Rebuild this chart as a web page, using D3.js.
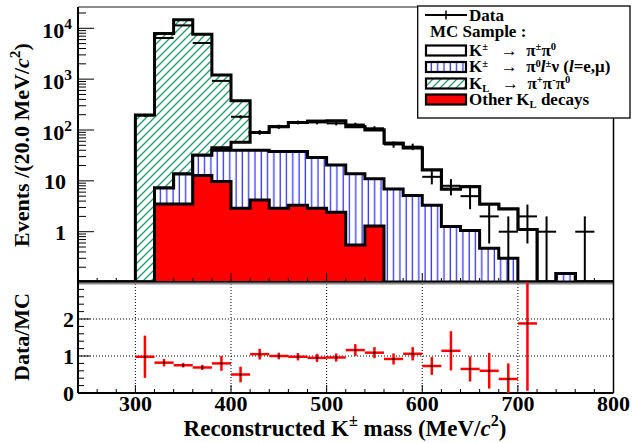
<!DOCTYPE html>
<html>
<head>
<meta charset="utf-8">
<script src="https://cdn.jsdelivr.net/npm/d3@7"></script>
<style>
  body { margin: 0; background: #fff; }
  text { font-family: "Liberation Serif", "Times New Roman", serif; font-weight: bold; fill: #000; }
</style>
</head>
<body>
<svg id="chart"></svg>
<script>
// bins of 20 MeV/c2, lower edges
const binLow = [240, 260, 280, 300, 320, 340, 360, 380, 400, 420, 440, 460, 480, 500,
                520, 540, 560, 580, 600, 620, 640, 660, 680, 700, 720, 740, 760, 780];
const binWidth = 20;

// MC samples (events per bin)
const otherKL = [0, 0, 0, 0, 3.5, 3.5, 12.7, 9.7, 2.9, 4.2, 2.9, 3.3, 2.9, 2.4,
                 0.55, 1.3, 0, 0, 0, 0, 0, 0, 0, 0, 0, 0, 0, 0];
const kpi0lnu = [0, 0, 0, 0, 3.7, 10.2, 19.3, 30.3, 37.1, 35.8, 34.7, 34.3, 26, 18.2,
                 13.2, 9.7, 6.9, 5.15, 3.3, 1.27, 1.06, 0.47, 0.3, 0, 0, 0.15, 0, 0];
const kpipi0 = [0, 0, 0, 0, 0, 0, 0, 5, 17.5, 49, 78, 103, 120, 129,
                102, 89, 48, 39, 13.1, 5.6, 6.6, 3.0, 2.5, 1.1, 0, 0, 0, 0];
const kl3pi = [0, 0, 0, 197, 7860, 14790, 7600, 1155, 318, 0, 0, 0, 0, 0,
               0, 0, 0, 0, 0, 0, 0, 0, 0, 0, 0, 0, 0, 0];

// data counts
const dataCounts = [0, 0, 0, 193, 6450, 11400, 5140, 925, 182, 90, 116, 141, 141, 135,
                    128, 108, 52, 47, 12, 8, 5, 2, 1, 2, 1, 0, 1, 0];

// Data/MC ratio and its error (null = no point)
const ratio = [null, null, null, 0.98, 0.82, 0.75, 0.69, 0.80, 0.50, 1.05, 1.0, 0.98, 0.95, 0.96,
               1.16, 1.09, 0.92, 1.06, 0.73, 1.14, 0.65, 0.60, 0.38, 1.88, null, null, null, null];
const ratioErr = [null, null, null, 0.57, 0.1, 0.06, 0.07, 0.2, 0.21, 0.145, 0.09, 0.1, 0.11, 0.11,
                  0.16, 0.15, 0.15, 0.18, 0.24, 0.53, 0.34, 0.48, 0.42, 1.82, null, null, null, null];

const logTicks = [1, 10, 100, 1000, 10000];
const logLabels = [[['1']], [['10']], [['10'], ['2', 'sup']], [['10'], ['3', 'sup']], [['10'], ['4', 'sup']]];
const xTicks = [300, 400, 500, 600, 700, 800];
const ratioTicks = [0, 1, 2];

const width = 632, height = 443;
const left = 78, right = 613.5;
const topY = 7, topBottom = 282;
const ratTop = 282, ratBottom = 393;

const svg = d3.select('#chart')
  .attr('width', width)
  .attr('height', height)
  .attr('viewBox', [0, 0, width, height]);

const x = d3.scaleLinear().domain([240, 800]).range([left, right]);
const y = d3.scaleLog().domain([1, 10000]).range([231.7, 28.3]);
const yR = d3.scaleLinear().domain([0, 3]).range([ratBottom, ratTop]);

function yc(v) {
  if (!(v > 0)) return topBottom;
  return Math.max(topY, Math.min(topBottom, y(v)));
}

// rich text with sup/sub/italic pieces
function rich(t, parts, size, opt = {}) {
  const up = opt.up || 0.42, down = opt.down || 0.28, small = opt.small || 0.7;
  let shift = 0;
  parts.forEach(([s, k]) => {
    const target = k === 'sup' ? -up : (k === 'sub' ? down : 0);
    const ts = t.append('tspan').text(s).attr('dy', (target - shift) * size);
    if (k === 'sup' || k === 'sub') ts.attr('font-size', size * small);
    if (k === 'it') ts.attr('font-style', 'italic');
    shift = target;
  });
  return t;
}

// patterns
const defs = svg.append('defs');
const pG = defs.append('pattern').attr('id', 'hatchG')
  .attr('patternUnits', 'userSpaceOnUse').attr('width', 8).attr('height', 8);
pG.append('rect').attr('width', 8).attr('height', 8).attr('fill', '#fff');
pG.append('path').attr('d', 'M-1,1 l2,-2 M0,8 l8,-8 M7,9 l2,-2')
  .attr('stroke', '#1a9e6c').attr('stroke-width', 1.3);
const pB = defs.append('pattern').attr('id', 'hatchB')
  .attr('patternUnits', 'userSpaceOnUse').attr('width', 6.3).attr('height', 10);
pB.append('rect').attr('width', 6.3).attr('height', 10).attr('fill', '#fff');
pB.append('line').attr('x1', 3).attr('x2', 3).attr('y1', 0).attr('y2', 10)
  .attr('stroke', '#3434ff').attr('stroke-width', 1.3);

// cumulative stack
const c1 = otherKL.slice();
const c2 = c1.map((v, i) => v + kpi0lnu[i]);
const c3 = c2.map((v, i) => v + kpipi0[i]);
const c4 = c3.map((v, i) => v + kl3pi[i]);

function stepPath(vals) {
  let d = `M${x(240)},${topBottom}`;
  vals.forEach((v, i) => {
    d += `L${x(binLow[i])},${yc(v)}L${x(binLow[i] + binWidth)},${yc(v)}`;
  });
  d += `L${x(800)},${topBottom}`;
  return d;
}

const upper = svg.append('g');
const stacks = [
  { vals: c4, fill: 'url(#hatchG)' },
  { vals: c3, fill: '#fff' },
  { vals: c2, fill: 'url(#hatchB)' },
  { vals: c1, fill: '#ff0000' }
];
stacks.forEach(s => {
  upper.append('path').attr('d', stepPath(s.vals) + 'Z').attr('fill', s.fill).attr('stroke', 'none');
  upper.append('path').attr('d', stepPath(s.vals)).attr('fill', 'none')
    .attr('stroke', '#000').attr('stroke-width', 3).attr('stroke-linejoin', 'miter');
});

// data points
const pts = upper.append('g').attr('stroke', '#000').attr('stroke-width', 2);
dataCounts.forEach((n, i) => {
  if (n <= 0) return;
  const e = Math.sqrt(n);
  pts.append('line').attr('x1', x(binLow[i])).attr('x2', x(binLow[i] + binWidth))
    .attr('y1', yc(n)).attr('y2', yc(n));
  pts.append('line').attr('x1', x(binLow[i] + binWidth / 2)).attr('x2', x(binLow[i] + binWidth / 2))
    .attr('y1', yc(n + e)).attr('y2', yc(n - e));
});

// top pad axes
const ax = svg.append('g').attr('stroke', '#000');
ax.append('line').attr('x1', left).attr('x2', right).attr('y1', topY).attr('y2', topY)
  .attr('stroke', '#8c8c8c').attr('stroke-width', 2);
ax.append('line').attr('x1', right).attr('x2', right).attr('y1', topY).attr('y2', topBottom).attr('stroke-width', 1.5);
ax.append('line').attr('x1', left).attr('x2', left).attr('y1', topY).attr('y2', topBottom).attr('stroke-width', 2);
ax.append('line').attr('x1', left).attr('x2', right).attr('y1', topBottom).attr('y2', topBottom).attr('stroke-width', 2);

// log y ticks
for (let e = -1; e <= 4; e++) {
  for (let m = 1; m <= 9; m++) {
    const v = m * Math.pow(10, e);
    const py = y(v);
    if (py < topY || py > topBottom) continue;
    ax.append('line').attr('x1', left).attr('x2', left + (m === 1 ? 16 : 8))
      .attr('y1', py).attr('y2', py).attr('stroke-width', 1);
  }
}
logTicks.forEach((v, i) => {
  const sup = logLabels[i].length > 1;
  const t = svg.append('text').attr('x', sup ? 72 : 66).attr('y', y(v) + (sup ? 10 : 8))
    .attr('text-anchor', 'end').attr('font-size', 22);
  rich(t, logLabels[i], 22);
});

// x ticks on top pad
for (let m = 260; m < 800; m += 20) {
  const major = m % 100 === 0;
  ax.append('line').attr('x1', x(m)).attr('x2', x(m))
    .attr('y1', topBottom).attr('y2', topBottom - (major ? 9 : 4)).attr('stroke-width', 1);
}

// legend
const lg = svg.append('g');
const lfs = 17;
const lopt = { up: 0.3, down: 0.2, small: 0.62 };
lg.append('rect').attr('x', 417.7).attr('y', 6).attr('width', 212.3).attr('height', 112)
  .attr('fill', '#fff').attr('stroke', '#000').attr('stroke-width', 1.3);
const rows = [20.5, 37, 55.5, 72, 88.5, 104.5];
lg.append('line').attr('x1', 425).attr('x2', 467).attr('y1', rows[0] - 5.5).attr('y2', rows[0] - 5.5)
  .attr('stroke', '#000').attr('stroke-width', 2.2);
lg.append('line').attr('x1', 446).attr('x2', 446).attr('y1', rows[0] - 10).attr('y2', rows[0] - 1)
  .attr('stroke', '#000').attr('stroke-width', 1.5);
const legendFills = ['#fff', 'url(#hatchB)', 'url(#hatchG)', '#ff0000'];
legendFills.forEach((f, i) => {
  lg.append('rect').attr('x', 426).attr('y', rows[i + 2] - 10).attr('width', 40).attr('height', 10)
    .attr('fill', f).attr('stroke', '#000').attr('stroke-width', 2.2);
});
const arrow = '\u00a0\u00a0\u00a0\u2192\u00a0\u00a0';
const legendTexts = [
  [['K'], ['\u00b1', 'sup'], [arrow], ['\u03c0'], ['\u00b1', 'sup'], ['\u03c0'], ['0', 'sup']],
  [['K'], ['\u00b1', 'sup'], [arrow], ['\u03c0'], ['0', 'sup'], ['l', 'it'], ['\u00b1', 'sup'], ['\u03bd ('], ['l', 'it'], ['=e,\u03bc)']],
  [['K'], ['L', 'sub'], [arrow], ['\u03c0'], ['+', 'sup'], ['\u03c0'], ['-', 'sup'], ['\u03c0'], ['0', 'sup']],
  [['Other K'], ['L', 'sub'], [' decays']]
];
lg.append('text').attr('x', 469).attr('y', rows[0]).attr('font-size', lfs).text('Data');
lg.append('text').attr('x', 430).attr('y', rows[1]).attr('font-size', lfs).text('MC Sample :');
legendTexts.forEach((p, i) => {
  rich(lg.append('text').attr('x', 469).attr('y', rows[i + 2]).attr('font-size', lfs), p, lfs, lopt);
});

// y title
rich(svg.append('text').attr('transform', `translate(29,145) rotate(-90)`)
  .attr('text-anchor', 'middle').attr('font-size', 22),
  [['Events /(20.0 MeV/'], ['c', 'it'], ['2', 'sup'], [')']], 22);

// ratio pad
const rp = svg.append('g');
const grid = rp.append('g').attr('stroke', '#000').attr('stroke-width', 1).attr('stroke-dasharray', '1,2');
xTicks.slice(0, -1).forEach(v => {
  grid.append('line').attr('x1', x(v)).attr('x2', x(v)).attr('y1', ratTop + 2).attr('y2', ratBottom);
});
[1, 2].forEach(v => {
  grid.append('line').attr('x1', left).attr('x2', right).attr('y1', yR(v)).attr('y2', yR(v));
});
const rax = rp.append('g').attr('stroke', '#000');
rax.append('line').attr('x1', left).attr('x2', right).attr('y1', ratTop + 1.5).attr('y2', ratTop + 1.5)
  .attr('stroke', '#8c8c8c').attr('stroke-width', 2);
rax.append('line').attr('x1', left).attr('x2', left).attr('y1', ratTop).attr('y2', ratBottom).attr('stroke-width', 2);
rax.append('line').attr('x1', left).attr('x2', right).attr('y1', ratBottom).attr('y2', ratBottom).attr('stroke-width', 2);
rax.append('line').attr('x1', right).attr('x2', right).attr('y1', ratTop).attr('y2', ratBottom).attr('stroke-width', 1.5);
for (let k = 1; k < 15; k++) {
  const v = k * 0.2;
  const major = Math.abs(v - Math.round(v)) < 1e-6;
  rax.append('line').attr('x1', left).attr('x2', left + (major ? 12 : 6))
    .attr('y1', yR(v)).attr('y2', yR(v)).attr('stroke-width', 1);
}
for (let m = 260; m < 800; m += 20) {
  const major = m % 100 === 0;
  rax.append('line').attr('x1', x(m)).attr('x2', x(m))
    .attr('y1', ratBottom).attr('y2', ratBottom - (major ? 8 : 4)).attr('stroke-width', 1);
}
ratioTicks.forEach(v => {
  svg.append('text').attr('x', 74).attr('y', yR(v) + 8).attr('text-anchor', 'end')
    .attr('font-size', 22).text(v);
});
xTicks.forEach(v => {
  svg.append('text').attr('x', x(v)).attr('y', 411).attr('text-anchor', 'middle')
    .attr('font-size', 22).text(v);
});

// ratio points
const rpts = rp.append('g').attr('stroke', '#ff0000').attr('stroke-width', 2.5);
ratio.forEach((r, i) => {
  if (r === null) return;
  const cx = x(binLow[i] + binWidth / 2);
  rpts.append('line').attr('x1', x(binLow[i])).attr('x2', x(binLow[i] + binWidth))
    .attr('y1', yR(r)).attr('y2', yR(r));
  rpts.append('line').attr('x1', cx).attr('x2', cx)
    .attr('y1', yR(Math.min(3, r + ratioErr[i]))).attr('y2', yR(Math.max(0, r - ratioErr[i])));
  rp.append('rect').attr('x', cx - 1).attr('y', yR(r) - 1).attr('width', 2).attr('height', 2).attr('fill', '#000');
});

rich(svg.append('text').attr('transform', `translate(29,337) rotate(-90)`)
  .attr('text-anchor', 'middle').attr('font-size', 22), [['Data/MC']], 22);

rich(svg.append('text').attr('x', 345).attr('y', 436).attr('text-anchor', 'middle').attr('font-size', 23),
  [['Reconstructed K'], ['\u00b1', 'sup'], [' mass (MeV/'], ['c', 'it'], ['2', 'sup'], [')']], 23);
</script>
</body>
</html>
